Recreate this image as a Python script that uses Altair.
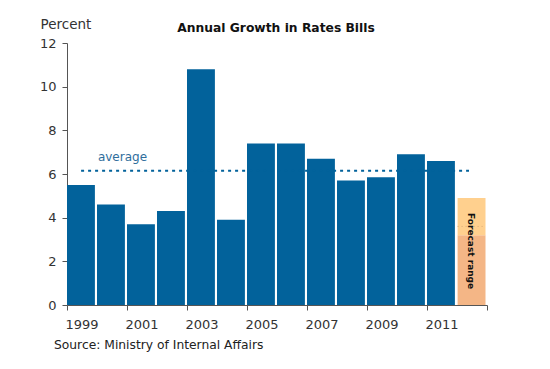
import altair as alt
import pandas as pd

years = [1999, 2000, 2001, 2002, 2003, 2004, 2005, 2006, 2007, 2008, 2009, 2010, 2011]
growth = [5.5, 4.6, 3.7, 4.3, 10.8, 3.9, 7.4, 7.4, 6.7, 5.7, 5.85, 6.9, 6.6]
average_value = 6.15
forecast_year = 2012
forecast_low = 3.2
forecast_high = 4.9
forecast_mid = 3.6
y_ticks = [0, 2, 4, 6, 8, 10, 12]
label_years = [1999, 2001, 2003, 2005, 2007, 2009, 2011]
boundary_ticks = [1998.5, 2000.5, 2002.5, 2004.5, 2006.5, 2008.5, 2010.5, 2012.5]
chart_title = "Annual Growth in Rates Bills"
source_note = "Source: Ministry of Internal Affairs"

W, H = 420, 262
BLUE = "#02629B"
FONT = "DejaVu Sans"

bars = pd.DataFrame({
    "year": years,
    "x0": [y - 0.5 for y in years],
    "x1": [y + 0.43 for y in years],
    "v": growth,
})

xscale = alt.Scale(domain=[1998.5, 2012.5], nice=False, zero=False)
yscale = alt.Scale(domain=[0, 12], nice=False)

xaxis = alt.Axis(
    values=boundary_ticks, title=None, grid=False, labels=False,
    tickSize=5, tickColor="#555555", domainColor="#555555",
)
yaxis = alt.Axis(
    values=y_ticks, grid=False, title="Percent",
    titleAngle=0, titleAlign="left", titleBaseline="alphabetic",
    titleX=-27, titleY=-15, titleFont=FONT, titleFontSize=13.5,
    titleFontWeight="normal", titleColor="#333333",
    labelFont=FONT, labelFontSize=13, labelColor="#333333",
    labelPadding=6, tickSize=5, tickColor="#555555", domainColor="#555555",
)

bar_layer = alt.Chart(bars).mark_rect(color=BLUE).encode(
    x=alt.X("x0:Q", scale=xscale, axis=xaxis),
    x2="x1:Q",
    y=alt.Y("v:Q", scale=yscale, axis=yaxis),
    y2=alt.datum(0),
)

year_labels = alt.Chart(pd.DataFrame({"yr": label_years, "t": [str(y) for y in label_years]})).mark_text(
    align="center", baseline="middle", font=FONT, fontSize=13, color="#333333"
).encode(x=alt.X("yr:Q", scale=xscale), y=alt.value(H + 20), text="t:N")

fc = pd.DataFrame({
    "x0": [forecast_year - 0.48, forecast_year - 0.48],
    "x1": [forecast_year + 0.45, forecast_year + 0.45],
    "lo": [0, forecast_low],
    "hi": [forecast_low, forecast_high],
    "c": ["#F4B686", "#FFD08E"],
})
fc_layer = alt.Chart(fc).mark_rect().encode(
    x=alt.X("x0:Q", scale=xscale), x2="x1:Q",
    y=alt.Y("lo:Q", scale=yscale), y2="hi:Q",
    color=alt.Color("c:N", scale=None),
)

fc_mid = alt.Chart(pd.DataFrame({"a": [forecast_year - 0.48], "b": [forecast_year + 0.45], "v": [forecast_mid]})).mark_rule(
    color="#D9A877", strokeDash=[1, 3], strokeWidth=1
).encode(x=alt.X("a:Q", scale=xscale), x2="b:Q", y=alt.Y("v:Q", scale=yscale))

avg = pd.DataFrame({"a": [1998.97], "b": [2011.9], "v": [average_value]})
avg_layer = alt.Chart(avg).mark_rule(color=BLUE, strokeDash=[3, 4], strokeWidth=2).encode(
    x=alt.X("a:Q", scale=xscale), x2="b:Q", y=alt.Y("v:Q", scale=yscale)
)

avg_text = alt.Chart(pd.DataFrame({"x": [1999.53], "y": [6.78], "t": ["average"]})).mark_text(
    align="left", baseline="middle", font=FONT, fontSize=12, color="#2F6E9C"
).encode(x=alt.X("x:Q", scale=xscale), y=alt.Y("y:Q", scale=yscale), text="t:N")

fc_text = alt.Chart(pd.DataFrame({"x": [forecast_year - 0.02], "y": [2.47], "t": ["Forecast range"]})).mark_text(
    align="center", baseline="middle", font=FONT, fontSize=9, fontWeight="bold", angle=90, color="#111111"
).encode(x=alt.X("x:Q", scale=xscale), y=alt.Y("y:Q", scale=yscale), text="t:N")

title_layer = alt.Chart(pd.DataFrame({"t": [chart_title]})).mark_text(
    align="center", baseline="alphabetic", font=FONT, fontSize=12.3, fontWeight="bold", color="#111111"
).encode(x=alt.value(209), y=alt.value(-11), text="t:N")

source = alt.Chart(pd.DataFrame({"t": [source_note]})).mark_text(
    align="left", baseline="middle", font=FONT, fontSize=12.3, color="#222222"
).encode(x=alt.value(-13), y=alt.value(H + 40), text="t:N")

chart = alt.layer(
    bar_layer, fc_layer, fc_mid, avg_layer, avg_text, fc_text, year_labels, title_layer, source
).properties(
    width=W, height=H,
    autosize=alt.AutoSizeParams(type="none"),
    padding={"left": 59, "top": 35, "right": 55, "bottom": 48},
    background="white",
).configure_view(stroke=None)

chart.save("out.html", embed_options={"renderer": "svg", "actions": False})
